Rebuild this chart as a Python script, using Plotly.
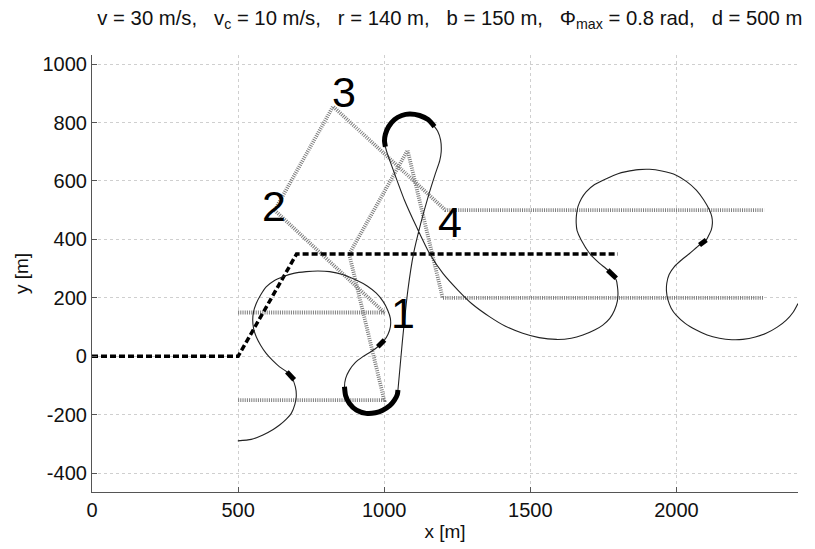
import plotly.graph_objects as go

# ---------------- data ----------------
# reference (target) path, thick black dashed
ref_x = [0, 500, 700, 1800]
ref_y = [0, 0, 350, 350]

# virtual waypoint paths, grey hatched
path_a_x = [500, 1000, 625, 825, 1210, 2300]
path_a_y = [150, 150, 500, 855, 500, 500]
path_b_x = [500, 1000, 880, 1080, 1200, 2300]
path_b_y = [-150, -150, 350, 705, 200, 200]

# flown trajectory, thin black
traj_x = [499, 545, 585, 620, 642, 665, 682, 694, 699, 696, 682, 667, 642, 618, 596, 577,
          562, 553, 550, 553, 562, 577, 596, 622, 653, 690, 733, 773, 813, 860, 904, 943,
          973, 996, 1012, 1021, 1021, 1013, 1001, 978, 953, 927, 900, 881, 868, 864, 868,
          881, 905, 938, 970, 995, 1020, 1035, 1045, 1047, 1062, 1081, 1100, 1125, 1150,
          1175, 1190, 1195, 1193, 1183, 1172, 1150, 1121, 1087, 1060, 1035, 1015, 1004, 1001,
          1004, 1012, 1035, 1069, 1110, 1155, 1201, 1252, 1300, 1360, 1415, 1474, 1530, 1589,
          1640, 1680, 1720, 1748, 1772, 1788, 1798, 1800, 1798, 1794, 1765, 1737, 1703, 1674,
          1660, 1657, 1658, 1663, 1675, 1691, 1720, 1760, 1800, 1828, 1870, 1908, 1950, 1999,
          2035, 2068, 2093, 2113, 2121, 2123, 2119, 2111, 2102, 2079, 2045, 2015, 1993, 1975,
          1967, 1966, 1971, 1982, 1999, 2030, 2068, 2105, 2147, 2190, 2227, 2270, 2307, 2345,
          2376, 2400, 2416]
traj_y = [-289, -284, -269, -250, -235, -215, -195, -165, -138, -104, -70, -53, -36, -14, 10, 38,
          67, 95, 124, 153, 181, 210, 238, 258, 272, 284, 290, 292, 290, 279, 261, 240,
          216, 188, 158, 130, 101, 76, 56, 33, 15, -1, -22, -47, -75, -104, -135,
          -161, -184, -195, -193, -184, -168, -150, -130, -115, 50, 227, 350, 455, 545,
          625, 670, 700, 740, 770, 786, 810, 824, 829, 824, 810, 786, 760, 738,
          717, 690, 626, 535, 444, 352, 284, 227, 180, 136, 103, 79, 64, 58,
          62, 73, 90, 107, 130, 158, 190, 216, 240, 261, 295, 318, 352, 398,
          430, 455, 485, 512, 540, 563, 588, 608, 625, 632, 639, 640, 634, 620,
          598, 569, 536, 501, 478, 455, 432, 415, 398, 381, 352, 328, 307, 280,
          250, 222, 193, 165, 141, 113, 90, 73, 62, 57, 58, 66, 79, 100,
          124, 152, 181]

# thick turn arcs
arc_bottom_x = [864, 868, 881, 905, 938, 970, 995, 1020, 1035, 1045, 1047]
arc_bottom_y = [-104, -135, -161, -184, -195, -193, -184, -168, -150, -130, -115]
arc_top_x = [1172, 1150, 1121, 1087, 1060, 1035, 1015, 1004, 1001, 1004]
arc_top_y = [786, 810, 824, 829, 824, 810, 786, 760, 738, 717]

# short thick switching marks (start, end)
mark_x = [[667, 692], [978, 1001], [1765, 1794], [2079, 2102]]
mark_y = [[-53, -80], [33, 56], [295, 267], [381, 398]]

# waypoint labels
label_text = ["1", "2", "3", "4"]
label_x = [1063, 624, 864, 1224]
label_y = [150, 513, 903, 461]

x_ticks = [0, 500, 1000, 1500, 2000]
y_ticks = [-400, -200, 0, 200, 400, 600, 800, 1000]
x_range = [0, 2416]
y_range = [-464, 1031]

title_text = ("v = 30 m/s,\u00a0\u00a0 v<sub>c</sub> = 10 m/s,\u00a0\u00a0 r = 140 m,\u00a0\u00a0 "
              "b = 150 m,\u00a0\u00a0 \u03a6<sub>max</sub> = 0.8 rad,\u00a0\u00a0 d = 500 m")

# ---------------- figure ----------------
FONT = "Liberation Sans, Arial, Helvetica, sans-serif"
fig = go.Figure()

for px_, py_ in [(path_a_x, path_a_y), (path_b_x, path_b_y)]:
    fig.add_trace(go.Scatter(x=px_, y=py_, mode="lines",
                             line=dict(color="#7d7d7d", width=3.8, dash="1px,1.2px"),
                             hoverinfo="skip", showlegend=False))

fig.add_trace(go.Scatter(x=ref_x, y=ref_y, mode="lines",
                         line=dict(color="black", width=3.5, dash="6px,3px"),
                         showlegend=False))

fig.add_trace(go.Scatter(x=traj_x, y=traj_y, mode="lines",
                         line=dict(color="#222222", width=1.1, shape="spline", smoothing=0.6),
                         showlegend=False))

for ax_, ay_ in [(arc_bottom_x, arc_bottom_y), (arc_top_x, arc_top_y)]:
    fig.add_trace(go.Scatter(x=ax_, y=ay_, mode="lines",
                             line=dict(color="black", width=5, shape="spline", smoothing=0.6),
                             showlegend=False))

for mx, my in zip(mark_x, mark_y):
    fig.add_trace(go.Scatter(x=mx, y=my, mode="lines",
                             line=dict(color="black", width=5),
                             showlegend=False))

for t, lx, ly in zip(label_text, label_x, label_y):
    fig.add_annotation(x=lx, y=ly, text=t, showarrow=False,
                       xanchor="center", yanchor="middle",
                       font=dict(family=FONT, size=43, color="black"))

axis_common = dict(
    showgrid=True, gridcolor="#cfcfcf", griddash="dot", gridwidth=1,
    showline=True, linecolor="#555555", linewidth=1.2,
    ticks="inside", ticklen=5, tickcolor="#555555",
    zeroline=False, mirror=False, automargin=False,
    tickfont=dict(family=FONT, size=20, color="#111111"),
)

fig.update_layout(
    width=815, height=549,
    margin=dict(l=92, r=17, t=55, b=57),
    paper_bgcolor="white", plot_bgcolor="white",
    font=dict(family=FONT, color="#111111"),
    title=dict(text=title_text, x=0.552, xref="container", xanchor="center",
               y=1 - 18 / 549, yref="container", yanchor="middle",
               font=dict(family=FONT, size=20.3, color="#111111")),
    xaxis=dict(range=x_range, tickvals=x_ticks, ticktext=[str(v) for v in x_ticks],
               title=dict(text="x [m]", font=dict(family=FONT, size=19), standoff=4),
               **axis_common),
    yaxis=dict(range=y_range, tickvals=y_ticks, ticktext=[str(v) for v in y_ticks],
               title=dict(text="y [m]", font=dict(family=FONT, size=19), standoff=8),
               **axis_common),
)

fig.write_html("out.html")
